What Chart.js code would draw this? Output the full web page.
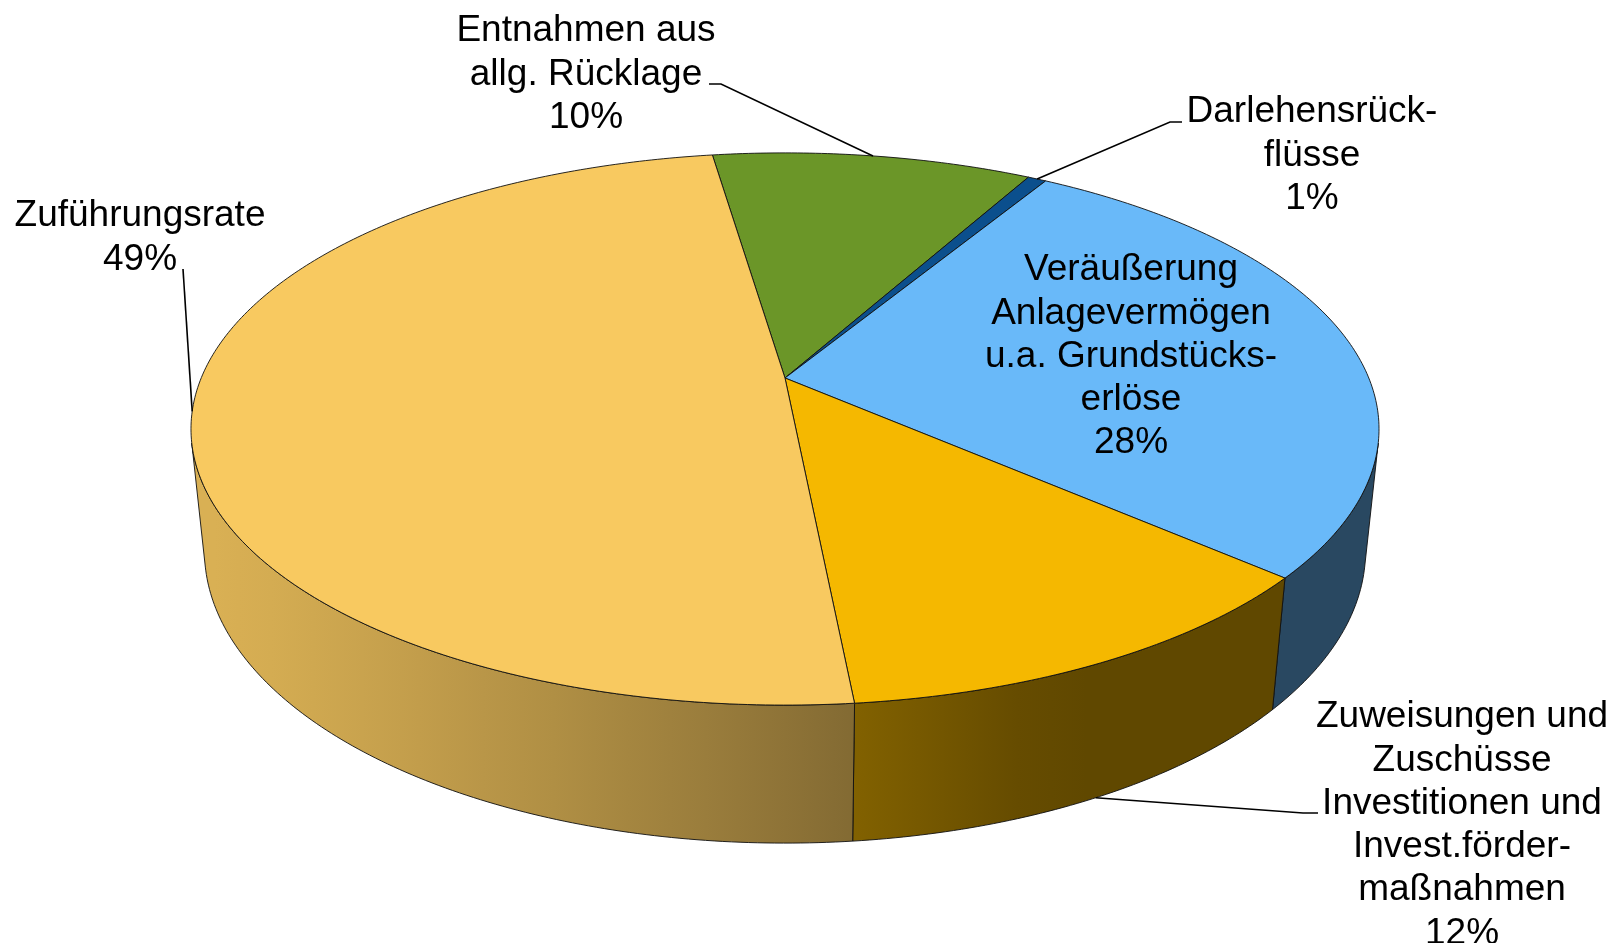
<!DOCTYPE html>
<html lang="de">
<head>
<meta charset="utf-8">
<title>Finanzierung der Investitionen</title>
<script src="https://cdn.jsdelivr.net/npm/chart.js@4.4.1/dist/chart.umd.min.js"></script>
<style>
  html, body { margin: 0; padding: 0; background: #fff; }
  #wrap { position: relative; width: 1623px; height: 943px; }
</style>
</head>
<body>
<div id="wrap"><canvas id="pie"></canvas></div>
<script>
// slices in clockwise order, starting just left of the top
const categories = [
  ['Entnahmen aus', 'allg. Rücklage'],
  ['Darlehensrück-', 'flüsse'],
  ['Veräußerung', 'Anlagevermögen', 'u.a. Grundstücks-', 'erlöse'],
  ['Zuweisungen und', 'Zuschüsse', 'Investitionen und', 'Invest.förder-', 'maßnahmen'],
  ['Zuführungsrate'],
];
const shares = [10.4, 0.6, 27.8, 12.0, 49.2];
const topColors = ['#6B9628', '#0B4F8D', '#69B9F9', '#F5B800', '#F8C960'];

// where each label sits (centre of its first line) and how its leader runs
const labelStyle = [
  { x: 586, y: 31, leader: [[709, 84], [721, 84]], to: 'top' },
  { x: 1312, y: 112, leader: [[1182, 122], [1170, 122]], to: 'top' },
  { x: 1131, y: 270, leader: null, to: null },
  { x: 1462, y: 717, leader: [[1318, 813], [1303, 813]], to: 'bottom' },
  { x: 140, y: 216, leader: [[183, 269]], to: 'top' },
];

const FONT = '37px "Liberation Sans", Arial, sans-serif';
const LINE_H = 43.3;

// 3d look: a camera above the pie, sizes in pie radii
const CAM_DIST = 4.817;
const TILT = 0.4744;
const PIE_SCALE = 583.8;   // px per radius at the centre
const THICKNESS = 0.2368;
const LIGHT_DIR = 158 * Math.PI / 180;
const AMBIENT = 0.39;
const DIFFUSE = 0.485;
const EDGE = 'rgba(15, 15, 15, 0.9)';
const TAU = Math.PI * 2;

function project(cx, cy, r, a, level) {
  const X = r * Math.cos(a);
  const Z = r * Math.sin(a);
  const Y = -level * THICKNESS;
  const s = Math.sin(TILT), c = Math.cos(TILT);
  const up = Y * c - Z * s;
  const depth = CAM_DIST - (Y * s + Z * c);
  const F = PIE_SCALE * CAM_DIST;
  return { x: cx + F * X / depth, y: cy - F * up / depth };
}

function traceRim(ctx, cx, cy, a1, a2, level, first) {
  const n = Math.max(2, Math.ceil(Math.abs(a2 - a1) * 80));
  for (let i = 0; i <= n; i++) {
    const p = project(cx, cy, 1, a1 + (a2 - a1) * i / n, level);
    if (i === 0 && first) ctx.moveTo(p.x, p.y);
    else ctx.lineTo(p.x, p.y);
  }
}

function hexToRgb(hex) {
  const v = parseInt(hex.slice(1), 16);
  return [(v >> 16) & 255, (v >> 8) & 255, v & 255];
}

// horizontal shading of the rim, lit from the left
function wallGradient(ctx, cx, cy, hex, lo, hi) {
  const left = project(cx, cy, 1, hi, 0).x;
  const right = project(cx, cy, 1, lo, 0).x;
  const g = ctx.createLinearGradient(left, 0, right, 0);
  const rgb = hexToRgb(hex);
  const steps = 24;
  for (let i = 0; i <= steps; i++) {
    const a = hi - (hi - lo) * i / steps;
    const x = project(cx, cy, 1, a, 0).x;
    const f = AMBIENT + DIFFUSE * Math.max(0, Math.cos(a - LIGHT_DIR));
    const t = Math.min(1, Math.max(0, (x - left) / (right - left)));
    g.addColorStop(t, `rgb(${rgb.map((c) => Math.round(c * f)).join(',')})`);
  }
  return g;
}

const pie3d = {
  id: 'pie3d',
  beforeDatasetsDraw(chart) {
    const ctx = chart.ctx;
    const arcs = chart.getDatasetMeta(0).data;
    const cx = arcs[0].x, cy = arcs[0].y;
    // visible part of the rim
    const lo = Math.asin(1 / (CAM_DIST * Math.cos(TILT)));
    const hi = Math.PI - lo;

    ctx.save();
    ctx.lineWidth = 1;
    ctx.strokeStyle = EDGE;
    ctx.lineJoin = 'round';

    arcs.forEach((arc, i) => {
      for (let k = -1; k <= 1; k++) {
        const s = Math.max(arc.startAngle + k * TAU, lo);
        const e = Math.min(arc.endAngle + k * TAU, hi);
        if (e <= s) continue;
        ctx.beginPath();
        traceRim(ctx, cx, cy, s, e, 0, true);
        traceRim(ctx, cx, cy, e, s, 1, false);
        ctx.closePath();
        ctx.fillStyle = wallGradient(ctx, cx, cy, topColors[i], lo, hi);
        ctx.fill();
        ctx.stroke();
      }
    });

    arcs.forEach((arc, i) => {
      ctx.beginPath();
      ctx.moveTo(cx, cy);
      traceRim(ctx, cx, cy, arc.startAngle, arc.endAngle, 0, false);
      ctx.closePath();
      ctx.fillStyle = topColors[i];
      ctx.fill();
      ctx.stroke();
    });
    ctx.restore();
    return false;
  },
  afterDraw(chart) {
    const ctx = chart.ctx;
    const arcs = chart.getDatasetMeta(0).data;
    const cx = arcs[0].x, cy = arcs[0].y;
    const total = shares.reduce((a, b) => a + b, 0);

    ctx.save();
    ctx.strokeStyle = '#000';
    ctx.lineWidth = 1.6;
    arcs.forEach((arc, i) => {
      const st = labelStyle[i];
      if (!st.leader) return;
      const mid = (arc.startAngle + arc.endAngle) / 2;
      const end = project(cx, cy, 1, mid, st.to === 'bottom' ? 1 : 0);
      ctx.beginPath();
      st.leader.forEach((p, j) => (j ? ctx.lineTo(p[0], p[1]) : ctx.moveTo(p[0], p[1])));
      ctx.lineTo(end.x, end.y);
      ctx.stroke();
    });

    ctx.font = FONT;
    ctx.fillStyle = '#000';
    ctx.textAlign = 'center';
    ctx.textBaseline = 'middle';
    categories.forEach((lines, i) => {
      const st = labelStyle[i];
      const pct = Math.round(shares[i] / total * 100) + '%';
      [...lines, pct].forEach((t, j) => ctx.fillText(t, st.x, st.y + j * LINE_H));
    });
    ctx.restore();
  },
};

new Chart(document.getElementById('pie'), {
  type: 'pie',
  data: {
    labels: categories,
    datasets: [{ data: shares, backgroundColor: topColors, borderWidth: 0 }],
  },
  options: {
    responsive: true,
    maintainAspectRatio: false,
    animation: false,
    events: [],
    rotation: -8.46,
    layout: { padding: { left: 0, right: 53, top: 0, bottom: 187 } },
    plugins: { legend: { display: false }, tooltip: { enabled: false } },
  },
  plugins: [pie3d],
});
</script>
</body>
</html>
